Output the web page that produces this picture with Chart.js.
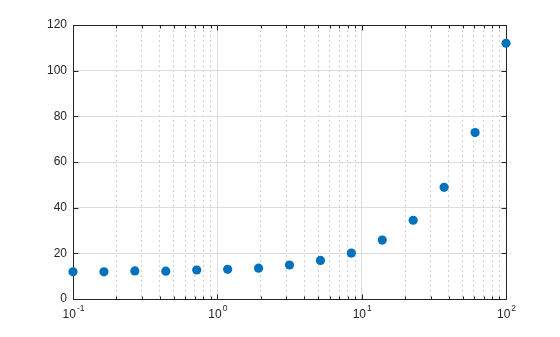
<!DOCTYPE html>
<html>
<head>
<meta charset="utf-8">
<script src="https://cdn.jsdelivr.net/npm/chart.js@4.4.0/dist/chart.umd.min.js"></script>
<style>
  html, body { margin: 0; padding: 0; background: #fff; }
  #wrap { width: 560px; height: 337px; }
</style>
</head>
<body>
<div id="wrap"><canvas id="chart"></canvas></div>
<script>
const xValues = [0.1, 0.1638, 0.2683, 0.4394, 0.7197, 1.1788, 1.9307, 3.1623, 5.1795, 8.4834, 13.895, 22.758, 37.276, 61.054, 100];
const yValues = [11.9, 11.9, 12.3, 12.2, 12.7, 13.0, 13.5, 14.9, 16.9, 20.1, 25.8, 34.5, 48.9, 72.9, 112];
const xDecades = [0.1, 1, 10, 100];
const xExponents = ['-1', '0', '1', '2'];
const yTicks = [0, 20, 40, 60, 80, 100, 120];

const axisColor = '#262626';
const fontFamily = 'Helvetica, Arial, "Liberation Sans", sans-serif';

// minor ticks 2..9 inside each decade
let xTicks = [];
xDecades.forEach((d, i) => {
    xTicks.push(d);
    if (i < xDecades.length - 1) {
        for (let k = 2; k <= 9; k++) xTicks.push(+(d * k).toPrecision(6));
    }
});

const isDecade = v => xDecades.some(d => Math.abs(d - v) < 1e-9);

// box, inward ticks and 10^n labels (MATLAB look)
const frame = {
    id: 'frame',
    beforeDatasetsDraw(chart) {
        const {ctx, chartArea: a, scales: {x, y}} = chart;
        const l = Math.round(a.left) + 0.5, r = Math.round(a.right) + 0.5;
        const t = Math.round(a.top) + 0.5, b = Math.round(a.bottom) + 0.5;
        ctx.save();
        ctx.strokeStyle = axisColor;
        ctx.lineWidth = 1;
        ctx.beginPath();
        ctx.rect(l, t, r - l, b - t);
        ctx.stroke();

        ctx.beginPath();
        xTicks.forEach(v => {
            const px = Math.round(x.getPixelForValue(v)) + 0.5;
            const len = isDecade(v) ? 5 : 3;
            ctx.moveTo(px, b); ctx.lineTo(px, b - len);
            ctx.moveTo(px, t); ctx.lineTo(px, t + len);
        });
        yTicks.forEach(v => {
            const py = Math.round(y.getPixelForValue(v)) + 0.5;
            ctx.moveTo(l, py); ctx.lineTo(l + 5, py);
            ctx.moveTo(r, py); ctx.lineTo(r - 5, py);
        });
        ctx.stroke();
        ctx.restore();
    },
    afterDraw(chart) {
        const {ctx, chartArea: a, scales: {x}} = chart;
        ctx.save();
        ctx.fillStyle = axisColor;
        ctx.textBaseline = 'alphabetic';
        ctx.textAlign = 'left';
        xDecades.forEach((d, i) => {
            const px = x.getPixelForValue(d);
            ctx.font = '12px ' + fontFamily;
            const w1 = ctx.measureText('10').width;
            ctx.font = '8.5px ' + fontFamily;
            const w2 = ctx.measureText(xExponents[i]).width;
            const left = px - (w1 + w2) / 2;
            ctx.font = '12px ' + fontFamily;
            ctx.fillText('10', left, a.bottom + 19);
            ctx.font = '8.5px ' + fontFamily;
            ctx.fillText(xExponents[i], left + w1 + 1, a.bottom + 12);
        });
        ctx.restore();
    }
};

new Chart(document.getElementById('chart'), {
    type: 'scatter',
    data: {
        datasets: [{
            data: xValues.map((v, i) => ({x: v, y: yValues[i]})),
            backgroundColor: '#0072BD',
            borderColor: '#0072BD',
            borderWidth: 0,
            pointRadius: 4.6,
            pointHoverRadius: 4.6,
            clip: false
        }]
    },
    options: {
        responsive: true,
        maintainAspectRatio: false,
        animation: false,
        layout: {
            padding: {left: 0, right: 54, top: 25, bottom: 0}
        },
        plugins: {
            legend: {display: false},
            tooltip: {enabled: false}
        },
        scales: {
            x: {
                type: 'logarithmic',
                min: 0.1,
                max: 100,
                afterBuildTicks: scale => {
                    scale.ticks = xTicks.map(v => ({value: v, major: isDecade(v)}));
                },
                afterFit: scale => { scale.height = 38; },
                ticks: {display: false},
                grid: {
                    drawTicks: false,
                    color: ctx => isDecade(ctx.tick ? ctx.tick.value : 0) ? '#dcdcdc' : '#d0d0d0',
                    lineWidth: 1
                },
                border: {
                    display: false,
                    dash: ctx => (ctx.tick && !isDecade(ctx.tick.value)) ? [2, 3] : []
                }
            },
            y: {
                min: 0,
                max: 120,
                afterBuildTicks: scale => {
                    scale.ticks = yTicks.map(v => ({value: v}));
                },
                afterFit: scale => { scale.width = 73; },
                ticks: {
                    color: axisColor,
                    padding: 6,
                    font: {family: fontFamily, size: 12}
                },
                grid: {
                    drawTicks: false,
                    color: '#dcdcdc',
                    lineWidth: 1
                },
                border: {display: false}
            }
        }
    },
    plugins: [frame]
});
</script>
</body>
</html>
